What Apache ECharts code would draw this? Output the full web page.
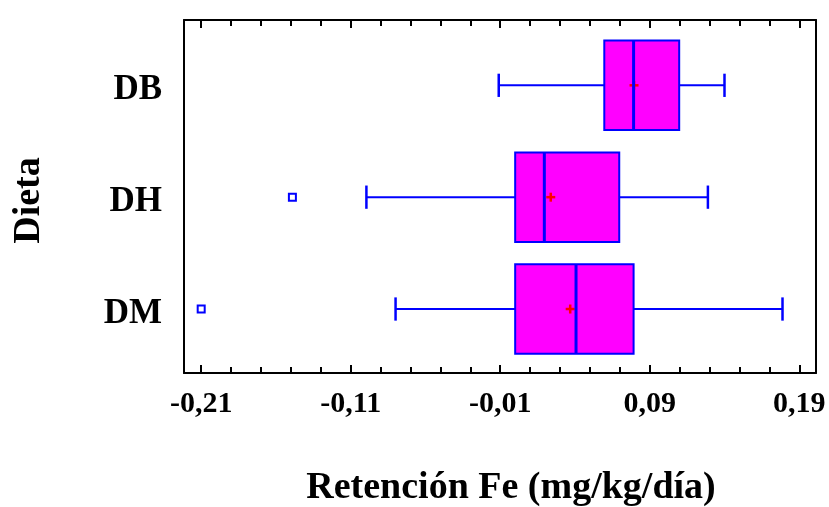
<!DOCTYPE html>
<html>
<head>
<meta charset="utf-8">
<script src="https://cdn.jsdelivr.net/npm/echarts@6/dist/echarts.min.js"></script>
<style>
  html, body { margin: 0; padding: 0; background: #fff; }
  #chart { width: 829px; height: 507px; }
</style>
</head>
<body>
<div id="chart"></div>
<script>
// Diet groups, placed at y = 1, 2, 3 (bottom to top)
const dietas = ['DM', 'DH', 'DB'];
const dietaPos = [1, 2, 3];

// Five-number summaries of Fe retention (mg/kg/día) per diet
const whiskerLow  = [-0.080, -0.0995, -0.011];
const q1          = [0.000,  0.000,   0.0596];
const median      = [0.0407, 0.0195,  0.0792];
const q3          = [0.0792, 0.0696,  0.1097];
const whiskerHigh = [0.1788, 0.1289,  0.140];
const means       = [0.0368, 0.0238,  0.0795];

// Outlying observations: [value, diet position]
const outliers = [[-0.21, 1], [-0.149, 2]];

// Axis tick values and their printed labels
const majorTicks = [-0.21, -0.11, -0.01, 0.09, 0.19];
const majorTickLabels = ['-0,21', '-0,11', '-0,01', '0,09', '0,19'];
const minorTicks = [-0.19, -0.17, -0.15, -0.13, -0.09, -0.07, -0.05, -0.03,
                    0.01, 0.03, 0.05, 0.07, 0.11, 0.13, 0.15, 0.17];

const X_MIN = -0.2215, X_MAX = 0.2012;
const Y_MIN = 0.428, Y_MAX = 3.584;
const FONT = '"Liberation Serif", "Times New Roman", serif';

const BOX_HALF = 0.4;
const CAP_HALF = 0.104;

const boxData = dietaPos.map((p, i) =>
  [p, whiskerLow[i], q1[i], q3[i], whiskerHigh[i]]);
const medianData = dietaPos.map((p, i) => [median[i], p]);
const meanData = dietaPos.map((p, i) => [means[i], p]);

const blue = '#0000FF';

const blueLine = (x1, y1, x2, y2, w) => ({
  type: 'line',
  shape: { x1, y1, x2, y2 },
  style: { stroke: blue, lineWidth: w || 2 }
});

// Whiskers, caps and the interquartile box
function renderBox(params, api) {
  const y = api.value(0);
  const lo = api.value(1), a = api.value(2), b = api.value(3), hi = api.value(4);
  const pLo = api.coord([lo, y]);
  const pA = api.coord([a, y]);
  const pB = api.coord([b, y]);
  const pHi = api.coord([hi, y]);
  const top = api.coord([a, y + BOX_HALF])[1];
  const bot = api.coord([a, y - BOX_HALF])[1];
  const capT = api.coord([a, y + CAP_HALF])[1];
  const capB = api.coord([a, y - CAP_HALF])[1];
  return {
    type: 'group',
    children: [
      blueLine(pLo[0], pLo[1], pA[0], pA[1]),
      blueLine(pB[0], pB[1], pHi[0], pHi[1]),
      blueLine(pLo[0], capT, pLo[0], capB, 2.5),
      blueLine(pHi[0], capT, pHi[0], capB, 2.5),
      {
        type: 'rect',
        shape: { x: pA[0], y: top, width: pB[0] - pA[0], height: bot - top },
        style: { fill: '#FF00FF', stroke: blue, lineWidth: 2 }
      }
    ]
  };
}

// Median line across the box
function renderMedian(params, api) {
  const v = api.value(0), y = api.value(1);
  const top = api.coord([v, y + BOX_HALF]);
  const bot = api.coord([v, y - BOX_HALF]);
  return blueLine(top[0], top[1], bot[0], bot[1], 3);
}

// Mean as a small red cross
function renderMean(params, api) {
  const p = api.coord([api.value(0), api.value(1)]);
  const s = 4.5;
  const st = { stroke: '#FF0000', lineWidth: 2.5 };
  return {
    type: 'group',
    children: [
      { type: 'line', shape: { x1: p[0] - s, y1: p[1], x2: p[0] + s, y2: p[1] }, style: st },
      { type: 'line', shape: { x1: p[0], y1: p[1] - s, x2: p[0], y2: p[1] + s }, style: st }
    ]
  };
}

const frameLine = { show: true, onZero: false, lineStyle: { color: '#000', width: 2 } };
const noLine = { show: false, onZero: false };

const chart = echarts.init(document.getElementById('chart'), null, { renderer: 'canvas' });
chart.setOption({
  animation: false,
  backgroundColor: '#fff',
  grid: { left: 184, right: 13, top: 20, bottom: 134, containLabel: false, outerBoundsMode: 'none' },
  xAxis: [
    {
      type: 'value', position: 'bottom', min: X_MIN, max: X_MAX,
      axisLine: frameLine,
      splitLine: { show: false },
      axisTick: { show: true, inside: true, length: 8, customValues: majorTicks,
                  lineStyle: { color: '#000', width: 2 } },
      axisLabel: {
        show: true, customValues: majorTicks, margin: 16,
        formatter: v => majorTickLabels[majorTicks.findIndex(t => Math.abs(t - v) < 1e-6)],
        fontFamily: FONT, fontWeight: 'bold', fontSize: 30, color: '#000'
      },
      name: 'Retención Fe (mg/kg/día)',
      nameLocation: 'middle', nameGap: 96,
      nameTextStyle: { fontFamily: FONT, fontWeight: 'bold', fontSize: 38, color: '#000',
                       padding: [0, 0, 0, 22] }
    },
    {
      type: 'value', position: 'bottom', min: X_MIN, max: X_MAX,
      axisLine: noLine, splitLine: { show: false }, axisLabel: { show: false },
      axisTick: { show: true, inside: true, length: 6, customValues: minorTicks,
                  lineStyle: { color: '#000', width: 2 } }
    },
    {
      type: 'value', position: 'top', min: X_MIN, max: X_MAX,
      axisLine: frameLine, splitLine: { show: false }, axisLabel: { show: false },
      axisTick: { show: true, inside: true, length: 8, customValues: majorTicks,
                  lineStyle: { color: '#000', width: 2 } }
    },
    {
      type: 'value', position: 'top', min: X_MIN, max: X_MAX,
      axisLine: noLine, splitLine: { show: false }, axisLabel: { show: false },
      axisTick: { show: true, inside: true, length: 6, customValues: minorTicks,
                  lineStyle: { color: '#000', width: 2 } }
    }
  ],
  yAxis: [
    {
      type: 'value', position: 'left', min: Y_MIN, max: Y_MAX,
      axisLine: frameLine, splitLine: { show: false },
      axisTick: { show: false },
      axisLabel: {
        show: true, customValues: dietaPos, margin: 22,
        formatter: v => '{d|' + dietas[dietaPos.indexOf(Math.round(v))] + '}',
        rich: {
          d: { fontFamily: FONT, fontWeight: 'bold', fontSize: 35, color: '#000',
               padding: [9, 0, 0, 0] }
        }
      },
      name: 'Dieta', nameLocation: 'middle', nameGap: 136, nameRotate: 90,
      nameTextStyle: { fontFamily: FONT, fontWeight: 'bold', fontSize: 38, color: '#000',
                       padding: [0, 8, 0, 0] }
    },
    {
      type: 'value', position: 'right', min: Y_MIN, max: Y_MAX,
      axisLine: frameLine, splitLine: { show: false },
      axisTick: { show: false }, axisLabel: { show: false }
    }
  ],
  series: [
    {
      type: 'custom', name: 'caja', xAxisIndex: 0, yAxisIndex: 0, z: 2,
      renderItem: renderBox,
      encode: { y: 0, x: [1, 2, 3, 4] },
      data: boxData
    },
    {
      type: 'custom', name: 'media', xAxisIndex: 0, yAxisIndex: 0, z: 3,
      renderItem: renderMean,
      encode: { x: 0, y: 1 },
      data: meanData
    },
    {
      type: 'custom', name: 'mediana', xAxisIndex: 0, yAxisIndex: 0, z: 4,
      renderItem: renderMedian,
      encode: { x: 0, y: 1 },
      data: medianData
    },
    {
      type: 'scatter', name: 'atípicos', xAxisIndex: 0, yAxisIndex: 0, z: 4,
      symbol: 'rect', symbolSize: 7,
      itemStyle: { color: '#fff', borderColor: blue, borderWidth: 2, opacity: 1 },
      data: outliers
    }
  ]
});
</script>
</body>
</html>
